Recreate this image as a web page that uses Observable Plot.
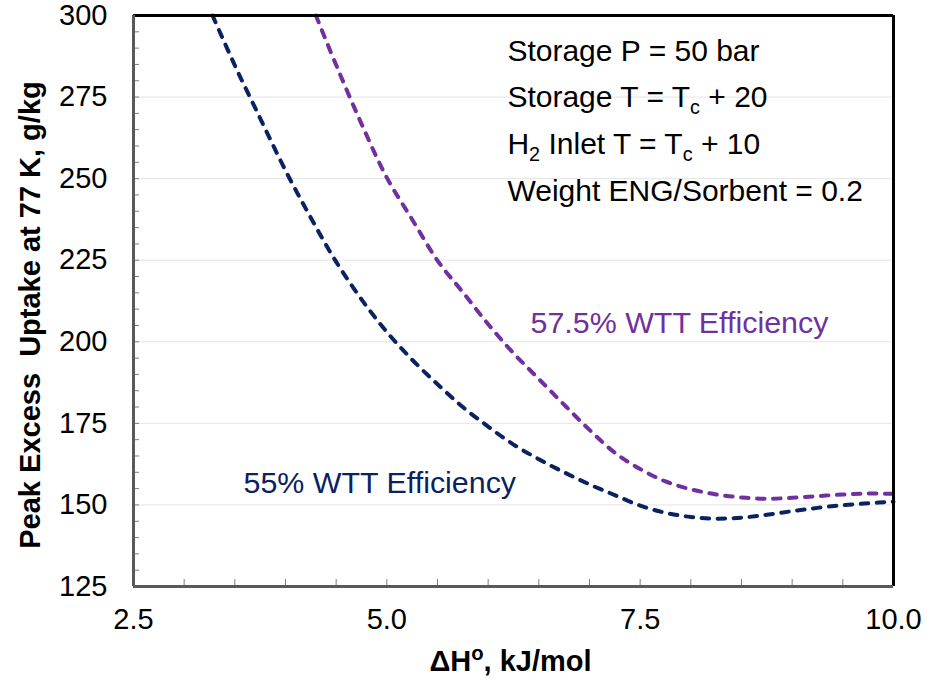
<!DOCTYPE html>
<html>
<head>
<meta charset="utf-8">
<script src="https://cdn.jsdelivr.net/npm/d3@7"></script>
<script src="https://cdn.jsdelivr.net/npm/@observablehq/plot@0.6"></script>
<style>
  html, body { margin: 0; padding: 0; background: #ffffff; }
  #chart svg { display: block; font-family: "Liberation Sans", Arial, sans-serif; }
</style>
</head>
<body>
<div id="chart"></div>
<script>
// ---- data ----
const eff55X = [3.28, 3.5, 3.75, 4.0, 4.25, 4.5, 4.75, 5.0, 5.25, 5.5, 5.75, 6.0, 6.25, 6.5, 6.75, 7.0, 7.25, 7.5, 7.75, 8.0, 8.25, 8.5, 8.75, 9.0, 9.25, 9.5, 9.75, 10.0];
const eff55Y = [300, 284.7, 268.5, 252.5, 238, 224.5, 213, 203, 194.5, 187, 180, 174, 168.5, 164, 160, 156.3, 153, 149.8, 147.6, 146.3, 145.8, 146.1, 147.0, 148.1, 149.1, 149.9, 150.5, 151.0];
const eff575X = [4.3, 4.5, 4.75, 5.0, 5.25, 5.5, 5.75, 6.0, 6.25, 6.5, 6.75, 7.0, 7.25, 7.5, 7.75, 8.0, 8.25, 8.5, 8.75, 9.0, 9.25, 9.5, 9.75, 10.0];
const eff575Y = [300, 284.8, 266.8, 250.3, 237.5, 224.9, 215.2, 205.4, 196.5, 188.6, 180.7, 173, 166, 161, 157.2, 154.8, 153.2, 152.3, 151.9, 152.2, 152.7, 153.2, 153.5, 153.4];

const xDomain = [2.5, 10];
const yDomain = [125, 300];
const xTicks = [2.5, 5.0, 7.5, 10.0];
const yTicks = [125, 150, 175, 200, 225, 250, 275, 300];
const yGrid = [150, 175, 200, 225, 250, 275];
const xMinorTicks = [3, 3.5, 4, 4.5, 5, 5.5, 6, 6.5, 7, 7.5, 8, 8.5, 9, 9.5];
const yMinorTicks = d3.range(130, 300, 5);

const xTitle = "ΔH^o, kJ/mol";
const yTitle = "Peak Excess  Uptake at 77 K, g/kg";
const label55 = "55% WTT Efficiency";
const label575 = "57.5% WTT Efficiency";
const conditions = ["Storage P = 50 bar", "Storage T = T_c + 20", "H_2 Inlet T = T_c + 10", "Weight ENG/Sorbent = 0.2"];

const series55 = eff55X.map((x, i) => ({x, y: eff55Y[i]}));
const series575 = eff575X.map((x, i) => ({x, y: eff575Y[i]}));

const navy = "#0b2260";
const purple = "#7030a0";
const fontSize = 29;

const W = 927, H = 680;
const mL = 133, mR = 34, mT = 15, mB = 94;
const plotW = W - mL - mR, plotH = H - mT - mB;

const chart = Plot.plot({
  width: W,
  height: H,
  marginLeft: mL,
  marginRight: mR,
  marginTop: mT,
  marginBottom: mB,
  style: {fontFamily: "'Liberation Sans', Arial, sans-serif", background: "#ffffff", overflow: "visible"},
  x: {domain: xDomain},
  y: {domain: yDomain},
  marks: [
    Plot.ruleY(yGrid, {stroke: "#e4e4e4", strokeWidth: 1}),
    Plot.tickY(yMinorTicks, {insetRight: plotW - 6, stroke: "#7f7f7f", strokeWidth: 1}),
    Plot.tickX(xMinorTicks, {insetTop: plotH - 7, stroke: "#7f7f7f", strokeWidth: 1}),
    Plot.line(series55, {x: "x", y: "y", stroke: navy, strokeWidth: 4, strokeDasharray: "7.5,8.5", strokeLinecap: "round", curve: "catmull-rom"}),
    Plot.line(series575, {x: "x", y: "y", stroke: purple, strokeWidth: 4, strokeDasharray: "7.5,8.5", strokeLinecap: "round", curve: "catmull-rom"}),
    Plot.ruleY([yDomain[1]], {stroke: "#000000", strokeWidth: 3}),
    Plot.ruleX([xDomain[1]], {stroke: "#000000", strokeWidth: 3}),
    Plot.ruleY([yDomain[0]], {stroke: "#595959", strokeWidth: 3}),
    Plot.ruleX([xDomain[0]], {stroke: "#595959", strokeWidth: 3}),
    Plot.axisY({ticks: yTicks, tickSize: 0, tickPadding: 26, fontSize, label: null, tickFormat: d => String(d), fill: "#000"}),
    Plot.axisX({ticks: xTicks, tickSize: 0, tickPadding: 22, fontSize, label: null, tickFormat: d3.format(".1f"), fill: "#000"}),
    Plot.text([xTitle], {frameAnchor: "bottom", dy: 84, dx: -3, fontSize, fontWeight: "bold", fill: "#000"}),
    Plot.text([yTitle], {frameAnchor: "left", textAnchor: "middle", dx: -103, dy: 14, rotate: -90, fontSize, fontWeight: "bold", fill: "#000"}),
    Plot.text([label55], {x: 3.586, y: 156.75, textAnchor: "start", fontSize: 30.4, fill: navy}),
    Plot.text([label575], {x: 6.418, y: 205.8, textAnchor: "start", fontSize: 30.4, fill: purple}),
    Plot.text([conditions.join("\n")], {x: 6.19, y: 296.3, textAnchor: "start", lineAnchor: "top", lineHeight: 1.556, fontSize: 30, fill: "#000"})
  ]
});

// sub/superscripts as real text tspans
const NS = "http://www.w3.org/2000/svg";
function richify(el) {
  const s = el.textContent;
  if (!/[_^]\w/.test(s)) return;
  const parts = s.split(/([_^]\w)/);
  el.textContent = "";
  let shift = 0;
  for (const p of parts) {
    if (!p) continue;
    const ts = document.createElementNS(NS, "tspan");
    if (/^[_^]\w$/.test(p)) {
      const sub = p[0] === "_";
      const d = sub ? 7 : -11;
      ts.setAttribute("dy", d - shift);
      shift = d;
      ts.setAttribute("font-size", sub ? "0.66em" : "0.7em");
      ts.textContent = p[1];
    } else {
      if (shift) ts.setAttribute("dy", -shift);
      shift = 0;
      ts.textContent = p;
    }
    el.appendChild(ts);
  }
}
chart.querySelectorAll("text").forEach(t => {
  const spans = t.querySelectorAll("tspan");
  if (spans.length) spans.forEach(richify); else richify(t);
});

document.getElementById("chart").appendChild(chart);
</script>
</body>
</html>
